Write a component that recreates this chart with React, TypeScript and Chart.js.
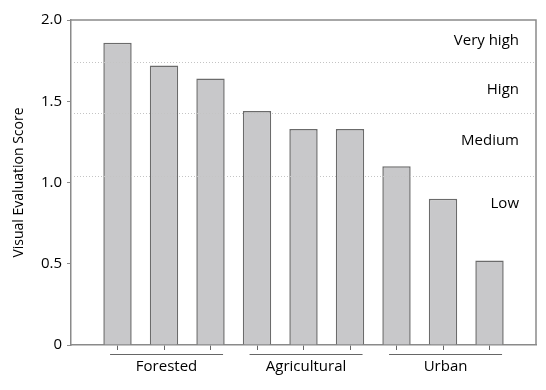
import React, { useEffect, useRef } from "react";
import { Chart, registerables } from "chart.js";

Chart.register(...registerables);

// ---- data ----
const categories = ["", "F1", "F2", "F3", "A1", "A2", "A3", "U1", "U2", "U3", ""];
const scores = [null, 1.86, 1.72, 1.64, 1.44, 1.33, 1.33, 1.1, 0.9, 0.52, null];
const yTicks = [0, 0.5, 1.0, 1.5, 2.0];
const groupNames = ["Forested", "Agricultural", "Urban"];
const groupStart = [1, 4, 7];
const groupEnd = [3, 6, 9];
const zoneThresholds = [1.74, 1.43, 1.04];
const zoneLabels = ["Very high", "Hign", "Medium", "Low"];
const zoneLabelValues = [1.87, 1.57, 1.26, 0.87];

const FONT = "'Open Sans', sans-serif";
const AXIS_COLOR = "#8a8a8a";
const TEXT_COLOR = "#000";

const overlay = {
  id: "overlay",
  afterDatasetsDraw(chart: any) {
    const { ctx, chartArea } = chart;
    const x = chart.scales.x;
    const y = chart.scales.y;
    ctx.save();
    // dotted zone lines
    ctx.strokeStyle = "#c4c4c4";
    ctx.lineWidth = 1;
    ctx.setLineDash([1, 2]);
    zoneThresholds.forEach((v) => {
      const py = Math.round(y.getPixelForValue(v)) + 0.5;
      ctx.beginPath();
      ctx.moveTo(chartArea.left, py);
      ctx.lineTo(chartArea.right, py);
      ctx.stroke();
    });
    ctx.setLineDash([]);
    // top and right border
    ctx.strokeStyle = AXIS_COLOR;
    ctx.lineWidth = 1.5;
    ctx.beginPath();
    ctx.moveTo(chartArea.left, chartArea.top);
    ctx.lineTo(chartArea.right, chartArea.top);
    ctx.lineTo(chartArea.right, chartArea.bottom);
    ctx.stroke();
    // zone labels
    ctx.fillStyle = TEXT_COLOR;
    ctx.font = `15px ${FONT}`;
    ctx.textAlign = "right";
    ctx.textBaseline = "middle";
    zoneLabels.forEach((t, i) => {
      ctx.fillText(t, chartArea.right - 17, y.getPixelForValue(zoneLabelValues[i]));
    });
    // group labels
    ctx.strokeStyle = "#666";
    ctx.lineWidth = 1;
    ctx.textAlign = "center";
    groupNames.forEach((name, i) => {
      const x0 = x.getPixelForValue(groupStart[i] - 0.16);
      const x1 = x.getPixelForValue(groupEnd[i] + 0.27);
      const ly = chartArea.bottom + 9.5;
      ctx.beginPath();
      ctx.moveTo(x0, ly);
      ctx.lineTo(x1, ly);
      ctx.stroke();
      ctx.fillText(name, (x0 + x1) / 2, chartArea.bottom + 22);
    });
    ctx.restore();
  },
};

export default function App() {
  const ref = useRef<HTMLCanvasElement>(null);
  useEffect(() => {
    const chart = new Chart(ref.current!, {
      type: "bar",
      data: {
        labels: categories,
        datasets: [
          {
            data: scores as any,
            backgroundColor: "#c8c8ca",
            borderColor: "#6b6b6b",
            borderWidth: 1.5,
            categoryPercentage: 1,
            barPercentage: 0.61,
          },
        ],
      },
      options: {
        responsive: false,
        animation: false,
        layout: { padding: { top: 20, right: 10, left: 0, bottom: 0 } },
        plugins: { legend: { display: false }, tooltip: { enabled: false } },
        scales: {
          x: {
            offset: false,
            afterFit: (s: any) => {
              s.height = 45;
            },
            grid: {
              offset: false,
              drawOnChartArea: false,
              tickLength: 5,
              color: (c: any) => (c.index === 0 || c.index === categories.length - 1 ? "rgba(0,0,0,0)" : "#666"),
            },
            border: { color: AXIS_COLOR, width: 1.5 },
            ticks: { display: true, callback: () => "", autoSkip: false, maxRotation: 0 },
          },
          y: {
            min: 0,
            max: 2,
            afterFit: (s: any) => {
              s.width = 71;
            },
            afterBuildTicks: (s: any) => {
              s.ticks = yTicks.map((v) => ({ value: v }));
            },
            grid: { drawOnChartArea: false, tickLength: 4, color: AXIS_COLOR },
            border: { color: AXIS_COLOR, width: 1.5 },
            ticks: {
              padding: 5,
              color: TEXT_COLOR,
              font: { family: FONT, size: 15 },
              callback: (v: any) => (Number(v) === 0 ? "0" : Number(v).toFixed(1)),
            },
            title: {
              display: true,
              text: "Visual Evaluation Score",
              color: TEXT_COLOR,
              font: { family: FONT, size: 14 },
              padding: { top: 11, bottom: 0 },
            },
          },
        },
      },
      plugins: [overlay],
    });
    return () => chart.destroy();
  }, []);
  return (
    <div style={{ position: "fixed", left: 0, top: 0, width: 546, height: 390, background: "#fff" }}>
      <canvas ref={ref} width={546} height={390} />
    </div>
  );
}
